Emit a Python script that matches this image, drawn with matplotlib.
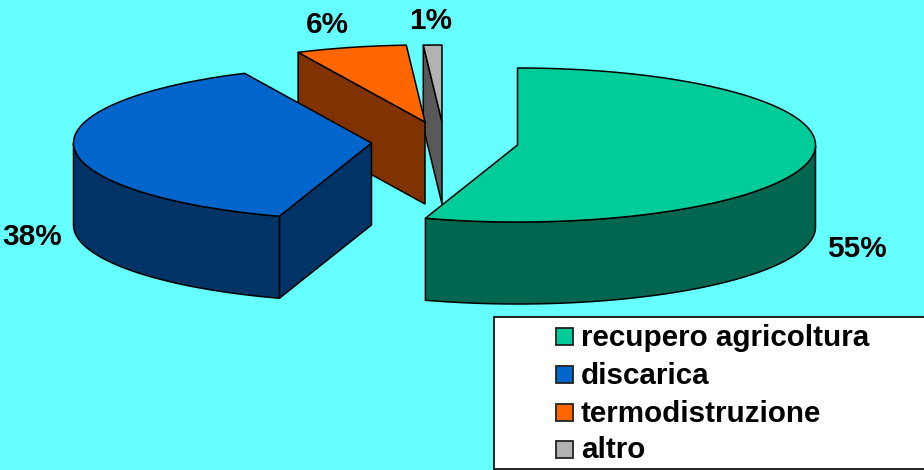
import numpy as np
import matplotlib
matplotlib.use("Agg")
import matplotlib.pyplot as plt
from matplotlib.patches import Polygon, Rectangle

categories = ["recupero agricoltura", "discarica", "termodistruzione", "altro"]
values = [55, 38, 6, 1]
pct_labels = ["55%", "38%", "6%", "1%"]
top_colors = ["#00CC99", "#0066CC", "#FF6600", "#B2B2B2"]
side_colors = ["#006650", "#003366", "#803300", "#595959"]
apex_x = [517.5, 371.5, 425, 442]
apex_y = [145, 143, 122, 122]
label_xy = [(857, 249), (32, 237), (327, 25), (431, 21)]
RX, RY, DEPTH = 298, 77, 82

W, H = 924, 470
fig = plt.figure(figsize=(W / 100, H / 100), dpi=100, facecolor="#66FFFF")
ax = fig.add_axes([0, 0, 1, 1])
ax.set_xlim(0, W)
ax.set_ylim(H, 0)
ax.axis("off")
plt.rcParams["font.family"] = ["Liberation Sans", "DejaVu Sans"]
ec = dict(edgecolor="black", linewidth=1.1, joinstyle="round")


def arc(cx, cy, a0, a1):
    t = np.radians(np.linspace(a0, a1, 200))
    return np.column_stack([cx + RX * np.cos(t), cy - RY * np.sin(t)])


fractions = np.array(values) / sum(values)
edges = 90 - 360 * np.concatenate([[0], np.cumsum(fractions)])
down = np.array([0, DEPTH])

order = [3, 2, 1, 0]
for i in order:
    cx, cy = apex_x[i], apex_y[i]
    a0, a1 = edges[i], edges[i + 1]
    apex = np.array([cx, cy])
    rim = arc(cx, cy, a0, a1)
    # flat cut faces: only those turned towards the viewer
    if np.cos(np.radians(a0)) < -1e-6:
        end = rim[0]
        ax.add_patch(Polygon(np.array([apex, end, end + down, apex + down]), closed=True,
                             facecolor=side_colors[i], **ec))
    if np.cos(np.radians(a1)) > 1e-6:
        end = rim[-1]
        ax.add_patch(Polygon(np.array([apex, end, end + down, apex + down]), closed=True,
                             facecolor=side_colors[i], **ec))
    # outer wall: the part of the rim on the front half of the ellipse
    mask = np.sin(np.radians(np.linspace(a0, a1, 200))) <= 0
    if mask.any():
        front = rim[mask]
        wall = np.vstack([front, (front + down)[::-1]])
        ax.add_patch(Polygon(wall, closed=True, facecolor=side_colors[i], **ec))
    ax.add_patch(Polygon(np.vstack([apex, rim]), closed=True, facecolor=top_colors[i], **ec))

for (x, y), s in zip(label_xy, pct_labels):
    ax.text(x, y, s, ha="center", va="center", fontsize=21.4, fontweight="bold", color="black")

ax.add_patch(Rectangle((494, 317), 440, 152, facecolor="white", edgecolor="#222222", linewidth=1.4))
legend_y = [336.5, 374.5, 412.5, 449.5]
for name, col, y in zip(categories, top_colors, legend_y):
    ax.add_patch(Rectangle((556, y - 8.5), 17, 17, facecolor=col, edgecolor="#222222", linewidth=1.3))
    ax.text(581, y + 1, name, ha="left", va="center", fontsize=21.3, fontweight="bold", color="black")

fig.savefig("out.png", dpi=100, facecolor=fig.get_facecolor())
